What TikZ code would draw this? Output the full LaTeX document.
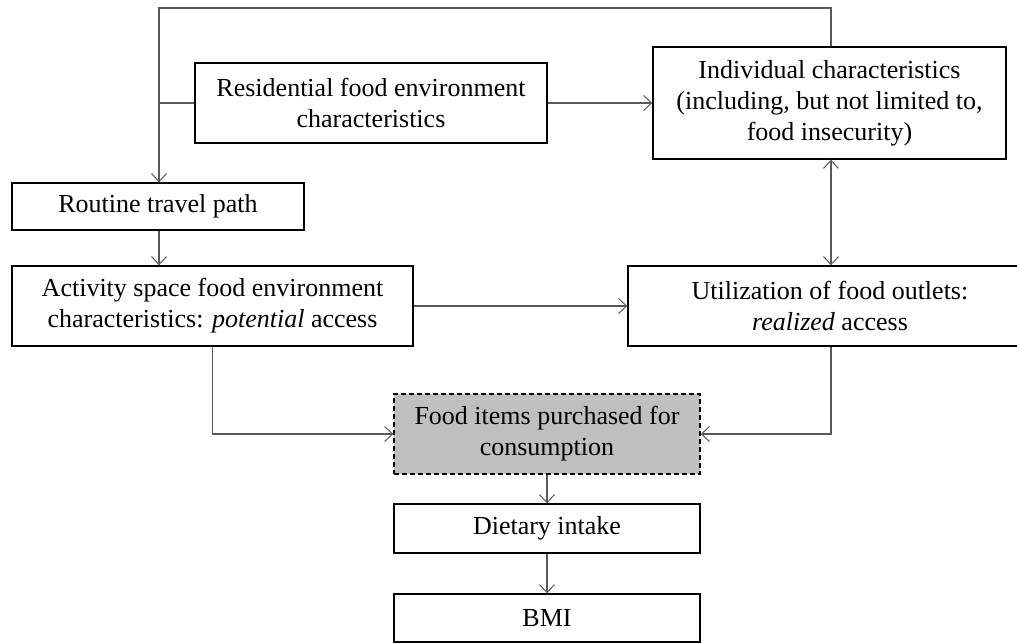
\documentclass[tikz,border=0pt]{standalone}
\usepackage{fontspec}
\setmainfont{Liberation Serif}
\usetikzlibrary{arrows.meta}
\begin{document}
\begin{tikzpicture}[x=1pt,y=-1pt,
  box/.style={draw=black,line width=1.4pt,align=center,inner sep=0pt,
    font=\fontsize{26}{31}\selectfont},
  conn/.style={draw=black!65,line width=1.1pt},
  arr/.style={conn,-{Straight Barb[length=8pt,width=15pt,line width=1pt]}},
  darr/.style={conn,{Straight Barb[length=8pt,width=15pt,line width=1pt]}-{Straight Barb[length=8pt,width=15pt,line width=1pt]}}]
\useasboundingbox (0,0) rectangle (1017,643);
\node[box,minimum width=352pt,minimum height=80pt] (res) at (371,103) {Residential food environment\\characteristics};
\node[box,minimum width=353pt,minimum height=112pt] (ind) at (829.5,103) {Individual characteristics\\(including, but not limited to,\\food insecurity)};
\node[box,minimum width=292pt,minimum height=47pt] (rou) at (158,206.5) {Routine travel path};
\node[box,minimum width=401pt,minimum height=80pt] (act) at (212.5,306) {Activity space food environment\\characteristics: \textit{potential} access};
\node[box,minimum width=404pt,minimum height=80pt] (uti) at (830,306) {Utilization of food outlets:\\\textit{realized} access};
\node[box,dash pattern=on 5pt off 3pt,fill=black!25,minimum width=306pt,minimum height=80pt] (food) at (547,434) {Food items purchased for\\consumption};
\node[box,minimum width=306pt,minimum height=49pt] (diet) at (547,528.5) {Dietary intake};
\node[box,minimum width=306pt,minimum height=48pt] (bmi) at (547,618) {BMI};
\coordinate (tr) at (831,8);
\coordinate (tl) at (159,8);
\coordinate (jn) at (159,103);
\draw[arr] (ind.north -| tr) -- (tr) -- (tl) -- (tl |- rou.north);
\draw[conn] (res.west) -- (jn);
\draw[arr] (res.east) -- (ind.west);
\draw[arr] (rou.south -| tl) -- (tl |- act.north);
\draw[arr] (act.east) -- (act.east -| uti.west);
\draw[darr] (ind.south -| tr) -- (uti.north -| tr);
\draw[arr] (act.south) -- (act.south |- food.west) -- (food.west);
\draw[arr] (uti.south -| tr) -- (tr |- food.east) -- (food.east);
\draw[arr] (food.south) -- (diet.north);
\draw[arr] (diet.south) -- (bmi.north);
\end{tikzpicture}
\end{document}
